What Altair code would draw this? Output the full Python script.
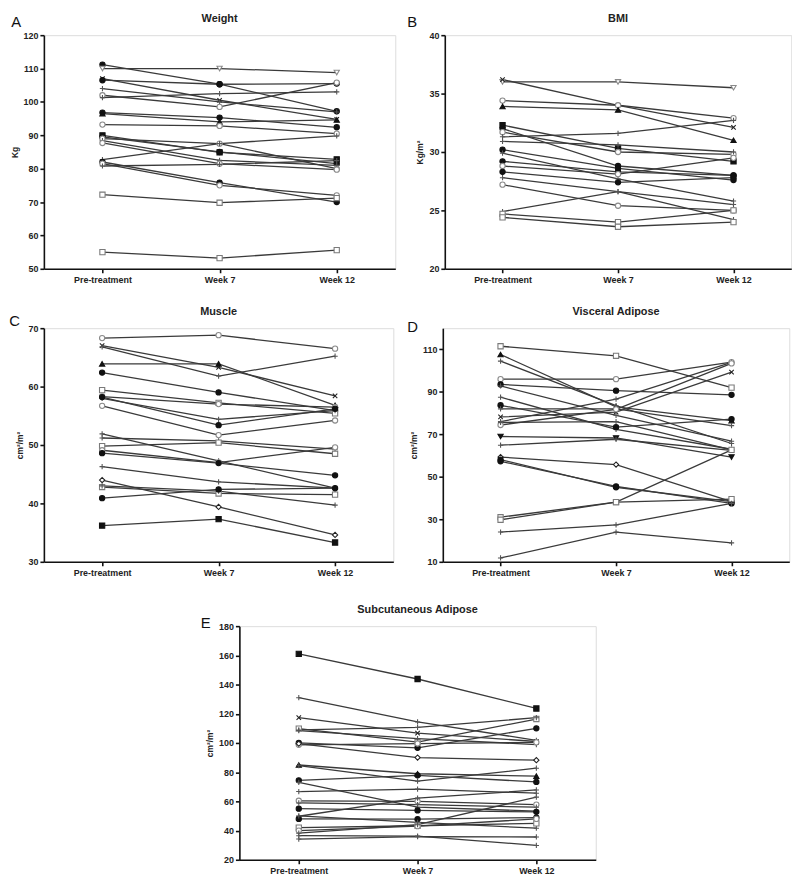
import altair as alt
import pandas as pd

times = ["Pre-treatment", "Week 7", "Week 12"]

# ---- Panel A: Weight (Kg)
w_pre = [111.2, 110.0, 107.0, 106.5, 104.0, 102.0, 101.3, 96.8, 96.5, 93.2, 90.0, 89.5, 89.0, 88.4, 87.7, 82.7, 82.0, 81.5, 80.8, 72.2, 55.0]
w_wk7 = [105.3, 110.0, 100.5, 105.3, 100.0, 98.5, 102.5, 95.3, 94.0, 92.8, 84.9, 85.0, 87.5, 82.5, 81.5, 87.5, 75.8, 75.0, 81.3, 69.8, 53.2]
w_wk12 = [97.2, 108.8, 94.8, 105.5, 97.0, 105.8, 103.0, 92.4, 94.6, 90.5, 82.8, 81.5, 80.0, 81.0, 79.7, 89.8, 70.0, 72.0, 82.4, 71.2, 55.6]

# ---- Panel B: BMI (Kg/m2)
b_pre = [36.0, 36.2, 34.4, 33.9, 32.3, 32.0, 31.7, 31.3, 30.9, 30.2, 29.9, 29.2, 28.8, 28.3, 27.8, 27.2, 24.9, 24.7, 24.4]
b_wk7 = [36.0, 34.0, 34.0, 33.6, 30.3, 28.8, 30.0, 31.6, 30.6, 28.6, 27.7, 28.3, 28.1, 27.4, 26.6, 25.4, 26.6, 24.0, 23.6]
b_wk12 = [35.5, 32.1, 32.9, 31.0, 29.2, 28.0, 29.8, 32.7, 30.0, 27.6, 25.8, 28.0, 29.5, 27.8, 24.2, 25.0, 25.5, 25.0, 24.0]

# ---- Panel C: Muscle (cm2/m2)
m_pre = [68.3, 67.0, 66.8, 63.9, 62.4, 59.4, 58.3, 58.0, 58.2, 56.7, 51.9, 51.2, 49.8, 49.1, 48.6, 46.3, 44.0, 42.8, 43.0, 40.9, 36.2]
m_wk7 = [68.8, 63.3, 61.8, 63.9, 59.0, 57.2, 57.0, 54.4, 53.4, 51.7, 47.3, 50.7, 50.4, 47.0, 46.9, 43.7, 39.4, 41.7, 42.1, 42.4, 37.3]
m_wk12 = [66.5, 58.4, 65.2, 56.8, 55.9, 55.4, 56.5, 55.9, 56.2, 54.2, 42.6, 49.3, 48.5, 49.6, 44.8, 42.6, 34.6, 41.5, 39.7, 42.6, 33.3]

# ---- Panel D: Visceral Adipose (cm2/m2)
v_pre = [111.5, 107.6, 104.5, 96.0, 93.5, 92.8, 87.5, 83.7, 82.0, 78.2, 76.0, 74.4, 75.6, 69.0, 64.9, 59.3, 58.1, 57.3, 31.0, 29.8, 24.0, 11.8]
v_wk7 = [107.0, 83.0, 83.5, 96.0, 90.6, 79.0, 72.3, 73.4, 82.0, 80.5, 86.6, 81.8, 76.0, 68.3, 67.7, 55.8, 45.1, 45.5, 38.1, 38.1, 27.4, 24.0]
v_wk12 = [92.0, 76.5, 65.7, 104.0, 88.6, 66.8, 63.0, 77.2, 74.1, 99.3, 103.9, 103.4, 62.7, 59.3, 62.5, 38.3, 38.3, 37.5, 39.5, 62.7, 37.5, 18.9]

# ---- Panel E: Subcutaneous Adipose (cm2/m2)
s_pre = [161.0, 131.0, 117.3, 109.8, 108.9, 108.5, 100.0, 98.7, 99.5, 84.9, 84.4, 74.4, 73.0, 66.7, 60.4, 58.9, 55.0, 49.8, 48.0, 50.0, 42.0, 40.0, 38.2, 36.5, 34.2]
s_wk7 = [143.8, 114.4, 106.7, 100.5, 110.7, 102.9, 96.7, 99.6, 90.0, 78.9, 73.8, 77.8, 56.0, 68.4, 60.0, 57.8, 53.8, 62.2, 47.8, 45.6, 43.3, 43.0, 44.0, 36.2, 35.8]
s_wk12 = [123.6, 101.8, 101.0, 116.4, 117.3, 98.9, 110.0, 100.4, 88.2, 77.3, 82.7, 73.3, 53.3, 65.6, 57.8, 56.0, 52.8, 67.8, 48.9, 41.6, 44.9, 48.0, 62.9, 29.8, 35.6]

# ---- marker styles (kept separate from values)
XPATH = "M-0.85,-0.85L0.85,0.85M-0.85,0.85L0.85,-0.85"
PLUS = "M-1,0L1,0M0,-1L0,1"
STY = {
    "fc": ("circle", "#111111", "#111111"),
    "oc": ("circle", "#ffffff", "#8a8a8a"),
    "fs": ("square", "#111111", "#111111"),
    "os": ("square", "#ffffff", "#7a7a7a"),
    "ft": ("triangle-up", "#111111", "#111111"),
    "ot": ("triangle-down", "#ffffff", "#8a8a8a"),
    "fv": ("triangle-down", "#111111", "#111111"),
    "od": ("diamond", "#ffffff", "#222222"),
    "x": (XPATH, "transparent", "#222222"),
    "p": (PLUS, "transparent", "#555555"),
}
w_mk = ["fc", "ot", "x", "fc", "p", "oc", "p", "fc", "ft", "oc", "fs", "fc", "oc", "p", "oc", "p", "fc", "oc", "p", "os", "os"]
b_mk = ["ot", "x", "oc", "ft", "fs", "fc", "oc", "p", "p", "fc", "p", "fc", "oc", "fc", "p", "oc", "p", "os", "os"]
m_mk = ["oc", "x", "p", "ft", "fc", "os", "oc", "p", "fc", "oc", "p", "p", "os", "oc", "fc", "p", "od", "os", "p", "fc", "fs"]
v_mk = ["os", "ft", "p", "oc", "fc", "p", "p", "fc", "p", "x", "p", "oc", "p", "fv", "p", "od", "fc", "fc", "os", "os", "p", "p"]
s_mk = ["fs", "p", "x", "os", "p", "p", "fc", "oc", "od", "ft", "p", "fc", "p", "p", "oc", "p", "fc", "p", "fc", "p", "os", "oc", "p", "p", "p"]

FONT = "Liberation Sans"
RES = dict(shape="independent", fill="independent", stroke="independent")


def panel(pre, wk7, wk12, marks, title, letter, ytitle, domain, ticks, w, h, lx, ly):
    ids = [f"P{i+1:02d}" for i in range(len(pre))]
    rows = []
    for i, pid in enumerate(ids):
        for t, v in zip(times, (pre[i], wk7[i], wk12[i])):
            rows.append({"pid": pid, "time": t, "value": v})
    df = pd.DataFrame(rows)
    xenc = alt.X(
        "time:N", sort=times, title=None,
        scale=alt.Scale(type="point", padding=0.5),
        axis=alt.Axis(labelAngle=0, labelFont=FONT, labelFontWeight="bold", labelFontSize=9,
                      labelColor="#222", domainColor="#111", domainWidth=1.6, tickColor="#111",
                      tickWidth=1.6, tickSize=4, labelPadding=3, grid=False),
    )
    yenc = alt.Y(
        "value:Q", title=ytitle,
        scale=alt.Scale(domain=domain, nice=False, zero=False),
        axis=alt.Axis(values=ticks, labelFont=FONT, labelFontWeight="bold", labelFontSize=9,
                      labelColor="#222", domainColor="#111", domainWidth=1.6, tickColor="#111",
                      tickWidth=1.6, tickSize=4, labelPadding=2, grid=False,
                      titleFont=FONT, titleFontSize=8.5, titleFontWeight="bold", titleColor="#222",
                      titlePadding=4),
    )
    base = alt.Chart(df).encode(x=xenc, y=yenc, detail="pid:N")
    lines = base.mark_line(color="#3a3a3a", strokeWidth=1.3)
    pts = base.mark_point(size=28, strokeWidth=1.1, opacity=1, filled=True).encode(
        shape=alt.Shape("pid:N", scale=alt.Scale(domain=ids, range=[STY[k][0] for k in marks]), legend=None),
        fill=alt.Fill("pid:N", scale=alt.Scale(domain=ids, range=[STY[k][1] for k in marks]), legend=None),
        stroke=alt.Stroke("pid:N", scale=alt.Scale(domain=ids, range=[STY[k][2] for k in marks]), legend=None),
    )
    one = pd.DataFrame({"a": [0]})
    lab = alt.Chart(one).mark_text(
        font=FONT, fontSize=15, align="left", baseline="top", color="#111"
    ).encode(x=alt.value(lx), y=alt.value(ly), text=alt.value(letter))
    ttl = alt.Chart(one).mark_text(
        font=FONT, fontSize=11, fontWeight="bold", align="center", baseline="middle", color="#222"
    ).encode(x=alt.value(w / 2), y=alt.value(-16), text=alt.value(title))
    return alt.layer(lines, pts, lab, ttl).properties(width=w, height=h)


H = 236
A = panel(w_pre, w_wk7, w_wk12, w_mk, "Weight", "A", "Kg", [50, 120], list(range(50, 121, 10)), 355, H, -33, -20)
B = panel(b_pre, b_wk7, b_wk12, b_mk, "BMI", "B", "Kg/m²", [20, 40], list(range(20, 41, 5)), 350, H, -38, -20)
C = panel(m_pre, m_wk7, m_wk12, m_mk, "Muscle", "C", "cm²/m²", [30, 70], list(range(30, 71, 10)), 353, H, -35, -14)
D = panel(v_pre, v_wk7, v_wk12, v_mk, "Visceral Adipose", "D", "cm²/m²", [10, 120], list(range(10, 111, 20)), 350, H, -36, -8)
E = panel(s_pre, s_wk7, s_wk12, s_mk, "Subcutaneous Adipose", "E", "cm²/m²", [20, 180], list(range(20, 181, 20)), 360, H, -39, -10)

row1 = alt.hconcat(A, B, spacing=10).resolve_scale(**RES)
row2 = alt.hconcat(C, D, spacing=12).resolve_scale(**RES)
top = alt.vconcat(row1, row2, spacing=20).resolve_scale(**RES)
chart = alt.vconcat(top, E, spacing=25, center=True).resolve_scale(**RES).properties(
    padding={"left": 0, "top": 0, "right": 0, "bottom": 0}
).configure_view(stroke=None).configure(background="white")

chart.save("out.html", embed_options={"renderer": "svg", "actions": False})
